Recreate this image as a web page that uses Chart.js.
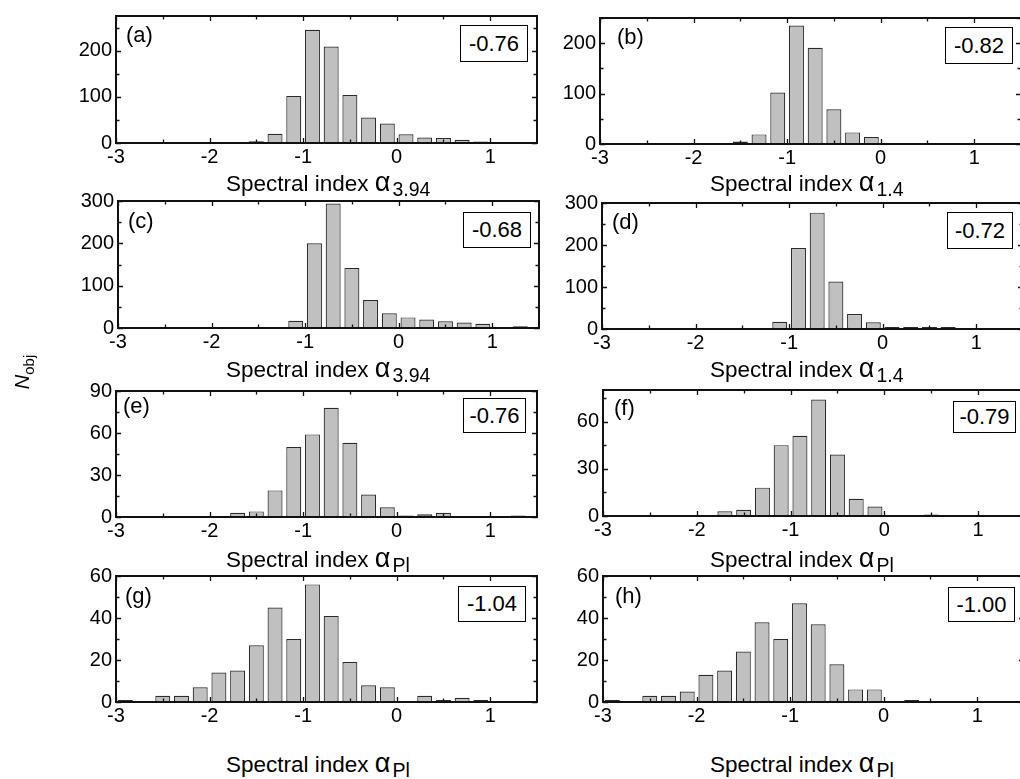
<!DOCTYPE html>
<html><head><meta charset="utf-8">
<script src="https://cdn.jsdelivr.net/npm/chart.js@4.4.0/dist/chart.umd.min.js"></script>
<style>
html,body{margin:0;padding:0;width:1020px;height:779px;overflow:hidden;background:#fff;}
body{position:relative;font-family:'Liberation Sans',Arial,sans-serif;color:#000;}
canvas{position:absolute;}
.lab{position:absolute;font-size:22px;line-height:22px;white-space:nowrap;}
.box{position:absolute;border:1px solid #000;box-sizing:border-box;font-size:22px;display:flex;align-items:center;justify-content:center;background:#fff;}
.xt{position:absolute;font-size:22.5px;line-height:26px;white-space:nowrap;}
.xt .al{font-size:27px;line-height:0;}
.xt .sb{font-size:19.5px;position:relative;top:5px;margin-left:2px;line-height:0;}
.yt{position:absolute;width:60px;height:24px;line-height:24px;font-size:20px;text-align:center;transform:rotate(-90deg);transform-origin:50% 50%;white-space:nowrap;}
.yt .sb{font-size:15px;position:relative;top:5px;line-height:0;}
</style></head><body>
<script>
// ---- data ----
const binCenters = [-2.9,-2.7,-2.5,-2.3,-2.1,-1.9,-1.7,-1.5,-1.3,-1.1,-0.9,-0.7,-0.5,-0.3,-0.1,0.1,0.3,0.5,0.7,0.9,1.1,1.3];
const countsA = [0,0,0,0,0,0,2,4,20,102,245,209,104,55,42,19,12,11,7,3,1,0];
const countsB = [0,0,0,0,0,0,1,5,19,102,235,191,69,23,14,2,1,1,1,1,0,0];
const countsC = [0,0,0,0,0,0,0,0,2,17,200,294,142,66,35,25,20,16,13,10,1,4];
const countsD = [0,0,0,0,0,0,0,0,1,17,193,277,113,36,16,5,5,5,5,1,1,1];
const countsE = [0,0,0,0,0,0,3,4,19,50,59,78,53,16,7,1,2,3,0,0,0,1];
const countsF = [0,0,0,0,0,0,3,4,18,45,51,74,39,11,6,0,0,1,0,0,0,0];
const countsG = [1,0,3,3,7,14,15,27,45,30,56,41,19,8,7,0,3,1,2,1,0,0];
const countsH = [1,0,3,3,5,13,15,24,38,30,47,37,18,6,6,0,1,0,0,0,0,0];
const xMin = -3, xMax = 1.5;
const xTicksMajor = [-3,-2,-1,0,1];
const xTicksMinor = [-2.5,-1.5,-0.5,0.5];
const yAxisMax = [275,250,300,300,90,80,60,60];
const yMajorStep = [100,100,100,100,30,30,20,20];
const panelLetters = ['(a)','(b)','(c)','(d)','(e)','(f)','(g)','(h)'];
const medianLabels = ['-0.76','-0.82','-0.68','-0.72','-0.76','-0.79','-1.04','-1.00'];
const xTitleSubs = ['3.94','1.4','3.94','1.4','Pl','Pl','Pl','Pl'];
const allCounts = [countsA,countsB,countsC,countsD,countsE,countsF,countsG,countsH];

// ---- layout ----
const plotRects = [ // left, top, right, bottom
  [116,16,537,143],[600,18,1021,144],
  [118,201,539,328],[602,203,1023,329],
  [116,391,537,517],[603,390,1025,516],
  [116,576,537,702],[603,576,1024,702]];
const letterPos = [[126,24],[617,26],[128,210],[612,211],[123,395],[614,397],[125,585],[615,585]];
const boxRects = [[460,25,528,62],[945,27,1013,64],[463,212,531,248],[947,212,1013,249],
  [463,398,526,433],[953,401,1016,433],[458,586,526,622],[948,587,1015,622]];
const titleTops = [171,171,357,357,547,547,752,752];
const titleLefts = [226,710,226,710,226,710,226,710];
const PAD_L=60, PAD_T=20, PAD_R=20, AX_H=40;
const FONT = "'Liberation Sans', Arial, sans-serif";

const frameTicks = {
  id:'frameTicks',
  afterDraw(chart, args, o){
    const {ctx, chartArea:a, scales:{x,y}} = chart;
    ctx.save();
    ctx.strokeStyle='#111';
    ctx.lineWidth=1.3;
    ctx.beginPath();
    const xt=(vals,len)=>vals.forEach(v=>{const p=Math.round(x.getPixelForValue(v))+0.5;
      ctx.moveTo(p,a.bottom);ctx.lineTo(p,a.bottom-len);ctx.moveTo(p,a.top);ctx.lineTo(p,a.top+len);});
    const yt=(vals,len)=>vals.forEach(v=>{const p=Math.round(y.getPixelForValue(v))+0.5;
      ctx.moveTo(a.left,p);ctx.lineTo(a.left+len,p);ctx.moveTo(a.right,p);ctx.lineTo(a.right-len,p);});
    xt(o.xMajor,5); xt(o.xMinor,3.5); yt(o.yMajor,5); yt(o.yMinor,3.5);
    ctx.stroke();
    ctx.lineWidth=2;
    ctx.strokeRect(a.left,a.top,a.right-a.left,a.bottom-a.top);
    ctx.restore();
  }
};

function addDiv(cls, html, style){
  const d=document.createElement('div'); d.className=cls; d.innerHTML=html;
  Object.assign(d.style, style); document.body.appendChild(d); return d;
}

allCounts.forEach((counts,i)=>{
  const [L,T,R,B]=plotRects[i];
  const cv=document.createElement('canvas');
  const w=(R-L)+PAD_L+PAD_R, h=(B-T)+PAD_T+AX_H;
  cv.width=w; cv.height=h;
  cv.style.left=(L-PAD_L)+'px'; cv.style.top=(T-PAD_T)+'px';
  cv.style.width=w+'px'; cv.style.height=h+'px';
  document.body.appendChild(cv);
  const major=yMajorStep[i], ymax=yAxisMax[i];
  const yMajor=[], yMinor=[];
  for(let v=0; v<=ymax+1e-9; v+=major/2){ (Math.round(v/(major/2))%2===0? yMajor: yMinor).push(v); }
  new Chart(cv,{
    type:'bar',
    data:{datasets:[{
      data: binCenters.map((c,k)=>({x:c,y:counts[k]})),
      backgroundColor:'#c0c0c0', borderColor:'#2b2b2b', borderWidth:1.2, borderSkipped:false,
      barPercentage:0.8, categoryPercentage:1
    }]},
    options:{
      responsive:false, animation:false, devicePixelRatio:1,
      layout:{padding:{left:0,top:PAD_T,right:PAD_R,bottom:0}},
      plugins:{legend:{display:false}, tooltip:{enabled:false},
        frameTicks:{xMajor:xTicksMajor,xMinor:xTicksMinor,yMajor,yMinor}},
      scales:{
        x:{type:'linear',min:xMin,max:xMax,offset:false,
          grid:{display:false,drawTicks:false,offset:false},border:{display:false},
          ticks:{stepSize:0.5,autoSkip:false,maxRotation:0,padding:2,color:'#000',
            font:{family:FONT,size:20},
            callback:(v)=>{const r=Math.round(v*100)/100; return Math.abs(r-Math.round(r))<1e-6? String(Math.round(r)) : '';}},
          afterFit:(s)=>{s.height=AX_H;}},
        y:{min:0,max:ymax,
          grid:{display:false,drawTicks:false},border:{display:false},
          ticks:{stepSize:major/2,includeBounds:false,padding:4,color:'#000',
            font:{family:FONT,size:20},
            callback:(v)=> (Math.round(v)%major===0 ? String(Math.round(v)) : '')},
          afterFit:(s)=>{s.width=PAD_L;}}
      }
    },
    plugins:[frameTicks]
  });
  addDiv('lab', panelLetters[i], {left:letterPos[i][0]+'px', top:letterPos[i][1]+'px'});
  const br=boxRects[i];
  addDiv('box', medianLabels[i], {left:br[0]+'px', top:br[1]+'px', width:(br[2]-br[0])+'px', height:(br[3]-br[1])+'px'});
  addDiv('xt', 'Spectral index <span class="al">α</span><span class="sb">'+xTitleSubs[i]+'</span>',
    {left:titleLefts[i]+'px', top:titleTops[i]+'px'});
});
addDiv('yt','<i>N</i><span class="sb">obj</span>',{left:'-8px', top:'360px'});
</script>
</body></html>
